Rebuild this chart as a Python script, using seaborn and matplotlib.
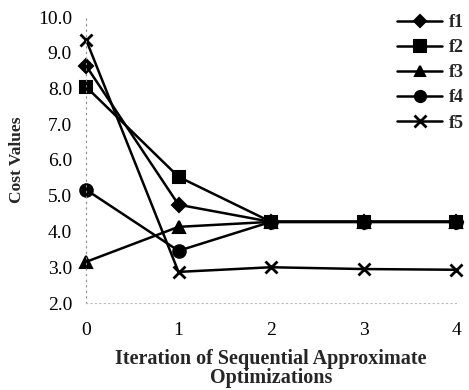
import numpy as np
import pandas as pd
import matplotlib
matplotlib.use("Agg")
import matplotlib.pyplot as plt
import seaborn as sns
from matplotlib.lines import Line2D

iterations = [0, 1, 2, 3, 4]
series_names = ["f1", "f2", "f3", "f4", "f5"]
f1 = [8.64, 4.75, 4.27, 4.27, 4.27]
f2 = [8.05, 5.53, 4.27, 4.27, 4.27]
f3 = [3.15, 4.13, 4.27, 4.27, 4.27]
f4 = [5.17, 3.46, 4.27, 4.27, 4.27]
f5 = [9.37, 2.87, 3.00, 2.95, 2.93]
y_ticks = [2.0, 3.0, 4.0, 5.0, 6.0, 7.0, 8.0, 9.0, 10.0]

rows = []
for name, vals in zip(series_names, [f1, f2, f3, f4, f5]):
    for it, v in zip(iterations, vals):
        rows.append({"Iteration": it, "Cost": v, "Series": name})
df = pd.DataFrame(rows)

sns.set_theme(style="white")
plt.rcParams['font.family'] = ['Liberation Serif', 'DejaVu Serif']

fig = plt.figure(figsize=(4.69, 3.90), dpi=100)
ax = fig.add_axes([86/469, 1-303/390, (456-86)/469, (303-17)/390])

markers = {"f1": "D", "f2": "s", "f3": "^", "f4": "o", "f5": "x"}
sizes_map = {"f1": 7, "f2": 9, "f3": 8, "f4": 9, "f5": 9}

for name in series_names:
    sub = df[df["Series"] == name]
    sns.lineplot(data=sub, x="Iteration", y="Cost", ax=ax, color="black",
                 marker=markers[name], markersize=sizes_map[name],
                 markeredgewidth=2 if name == "f5" else 1.5,
                 markeredgecolor="black", markerfacecolor="black",
                 linewidth=1.8, clip_on=False, legend=False)

ax.set_xlim(0, 4)
ax.set_ylim(2, 10)
ax.set_yticks(y_ticks)
ax.set_yticklabels([f"{t:.1f}" for t in y_ticks], fontsize=14)
ax.set_xticks(iterations)
ax.set_xticklabels([str(i) for i in iterations], fontsize=14)
ax.tick_params(axis="both", length=0, pad=10, colors="black")
ax.tick_params(axis="x", pad=14)

for s in ["top", "right"]:
    ax.spines[s].set_visible(False)
ax.spines["left"].set_linestyle((0, (1, 4)))
ax.spines["left"].set_color("#888888")
ax.spines["left"].set_linewidth(0.8)
ax.spines["bottom"].set_linestyle((0, (1, 3)))
ax.spines["bottom"].set_color("#bbbbbb")
ax.spines["bottom"].set_linewidth(0.8)

ax.set_ylabel("Cost Values", fontsize=12.5, fontweight="bold", labelpad=9)
ax.set_xlabel("Iteration of Sequential Approximate\nOptimizations", fontsize=14.5,
              fontweight="bold", labelpad=7, linespacing=0.95)

handles = []
for name in series_names:
    handles.append(Line2D([0], [0], color="black", lw=1.8, marker=markers[name],
                          markersize=sizes_map[name]-1,
                          markeredgewidth=2 if name == "f5" else 1.5,
                          markeredgecolor="black", markerfacecolor="black"))
fig.legend(handles, series_names, loc="upper left", bbox_to_anchor=(397/469, 1-14/390),
           frameon=False, handlelength=2.5, handletextpad=0.4, labelspacing=0.45,
           borderpad=0, borderaxespad=0,
           prop={"family": "Liberation Serif", "weight": "bold", "size": 13})

fig.savefig("out.png", dpi=100)
